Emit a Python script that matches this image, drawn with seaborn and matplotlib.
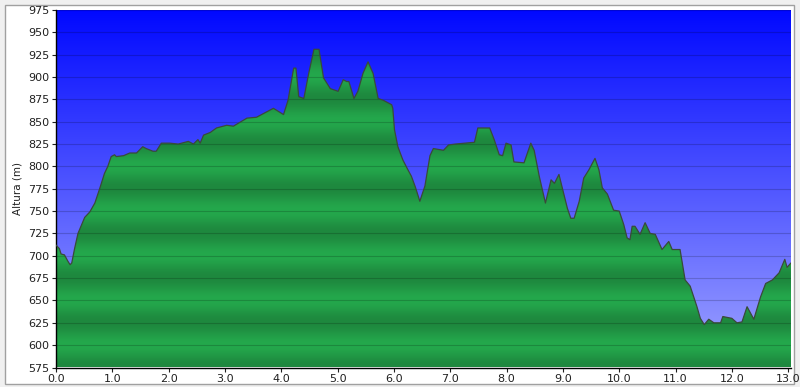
import numpy as np
import pandas as pd
import matplotlib
matplotlib.use("Agg")
import matplotlib.pyplot as plt
import matplotlib.patches as mpatches
import seaborn as sns

km = [0.00, 0.06, 0.09, 0.15, 0.21, 0.25, 0.28, 0.33, 0.39, 0.45, 0.51, 0.60, 0.69, 0.78,
      0.86, 0.92, 0.98, 1.04, 1.07, 1.20, 1.31, 1.43, 1.54, 1.60, 1.72, 1.78, 1.87, 2.02,
      2.17, 2.35, 2.44, 2.52, 2.56, 2.62, 2.74, 2.85, 3.03, 3.15, 3.39, 3.56, 3.74, 3.86,
      4.04, 4.12, 4.22, 4.26, 4.31, 4.40, 4.49, 4.58, 4.67, 4.75, 4.87, 5.01, 5.10, 5.16,
      5.20, 5.29, 5.36, 5.45, 5.54, 5.63, 5.72, 5.81, 5.90, 5.96, 5.98, 6.01, 6.07, 6.16,
      6.25, 6.31, 6.38, 6.46, 6.55, 6.64, 6.70, 6.88, 6.97, 7.09, 7.43, 7.49, 7.70, 7.78,
      7.87, 7.93, 7.99, 8.08, 8.13, 8.31, 8.37, 8.43, 8.49, 8.58, 8.69, 8.79, 8.85, 8.93,
      8.99, 9.08, 9.14, 9.20, 9.29, 9.37, 9.46, 9.57, 9.64, 9.70, 9.79, 9.90, 10.00, 10.08,
      10.14, 10.19, 10.23, 10.28, 10.37, 10.46, 10.55, 10.64, 10.76, 10.88, 10.94, 11.08,
      11.17, 11.26, 11.38, 11.44, 11.51, 11.59, 11.68, 11.80, 11.84, 12.00, 12.09, 12.18,
      12.27, 12.39, 12.51, 12.60, 12.72, 12.84, 12.94, 12.98, 13.05]
altura = [712, 708, 702, 701, 694, 690, 692, 708, 725, 734, 743, 749, 759, 776,
          792, 800, 811, 813, 811, 812, 815, 815, 822, 820, 817, 817, 826, 826,
          825, 828, 825, 830, 826, 835, 838, 843, 846, 845, 854, 855, 861, 865,
          858, 874, 910, 910, 878, 876, 905, 931, 931, 899, 887, 884, 897, 895,
          895, 876, 884, 904, 917, 904, 876, 874, 871, 869, 865, 841, 822, 807,
          796, 789, 777, 761, 778, 812, 820, 818, 824, 825, 827, 843, 843, 830,
          813, 812, 826, 824, 805, 804, 815, 826, 818, 789, 759, 785, 781, 791,
          776, 753, 742, 742, 761, 787, 796, 809, 796, 776, 769, 751, 750, 735,
          720, 718, 733, 733, 724, 737, 725, 724, 707, 716, 707, 707,
          673, 666, 643, 630, 623, 629, 625, 625, 632, 630, 625, 626,
          643, 629, 654, 669, 673, 681, 696, 687, 692]

x_ticks = [0, 1, 2, 3, 4, 5, 6, 7, 8, 9, 10, 11, 12, 13]
x_labels = ["0.0", "1.0", "2.0", "3.0", "4.0", "5.0", "6.0", "7.0", "8.0", "9.0",
            "10.0", "11.0", "12.0", "13.0"]
y_ticks = list(range(575, 976, 25))
y_label = "Altura (m)"

df = pd.DataFrame({"km": km, "altura": altura})

sns.set_style("white")
plt.rcParams["font.family"] = ["DejaVu Sans"]

fig = plt.figure(figsize=(8.0, 3.87), dpi=100)
fig.patch.set_facecolor("#f0f0f0")
frame = mpatches.Rectangle((5 / 800, 3 / 387), 789 / 800, 379 / 387, transform=fig.transFigure,
                           facecolor="white", edgecolor="#a0a0a0", linewidth=1.0, zorder=-10)
fig.patches.append(frame)

ax = fig.add_axes([56 / 800, 19.5 / 387, 735 / 800, 357.5 / 387])
xmin, xmax = 0.0, 13.05
ymin, ymax = 575, 975
ax.set_xlim(xmin, xmax)
ax.set_ylim(ymin, ymax)

# sky gradient background
ny = 400
t = np.linspace(0, 1, ny)[:, None]  # 0 bottom -> 1 top
top_c = np.array([0, 8, 255]) / 255.0
bot_c = np.array([160, 165, 255]) / 255.0
sky = (bot_c * (1 - t) + top_c * t)[:, None, :]
sky = np.repeat(sky, 2, axis=1).reshape(ny, 2, 3)
ax.imshow(sky, extent=[xmin, xmax, ymin, ymax], origin="lower", aspect="auto", zorder=0,
          interpolation="bilinear")

# banded green gradient clipped by profile
ys = np.linspace(ymin, ymax, 1600)
phase = np.cos((ys - 725) / 50.0 * 2 * np.pi)  # 1 at dark levels
w = (phase + 1) / 2
bright = np.array([36, 168, 76]) / 255.0
dark = np.array([30, 136, 62]) / 255.0
band = bright[None, :] * (1 - w[:, None]) + dark[None, :] * w[:, None]
band_img = np.repeat(band[:, None, :], 2, axis=1)
im = ax.imshow(band_img, extent=[xmin, xmax, ymin, ymax], origin="lower", aspect="auto",
               zorder=1, interpolation="bilinear")
clip = mpatches.Polygon(
    np.column_stack([[km[0]] + km + [km[-1]], [ymin] + altura + [ymin]]),
    closed=True, transform=ax.transData, facecolor="none", edgecolor="none")
ax.add_patch(clip)
im.set_clip_path(clip)

sns.lineplot(data=df, x="km", y="altura", ax=ax, color="#3a4a3a", linewidth=0.9, zorder=3)

for yv in y_ticks:
    ax.axhline(yv, color="black", alpha=0.18, linewidth=0.8, zorder=2)

ax.set_xticks(x_ticks)
ax.set_xticklabels(x_labels)
ax.set_yticks(y_ticks)
ax.set_yticklabels([str(v) for v in y_ticks])
ax.tick_params(axis="both", labelsize=8, colors="#202020", length=3, width=0.8,
               direction="out", pad=2)
ax.tick_params(bottom=True, left=True)
ax.set_xlabel("")
ax.set_ylabel(y_label, fontsize=7.5, color="#202020", labelpad=4)
for s in ["top", "right"]:
    ax.spines[s].set_visible(False)
for s in ["left", "bottom"]:
    ax.spines[s].set_color("black")
    ax.spines[s].set_linewidth(1.0)
ax.grid(False)

fig.savefig("out.png", dpi=100)
